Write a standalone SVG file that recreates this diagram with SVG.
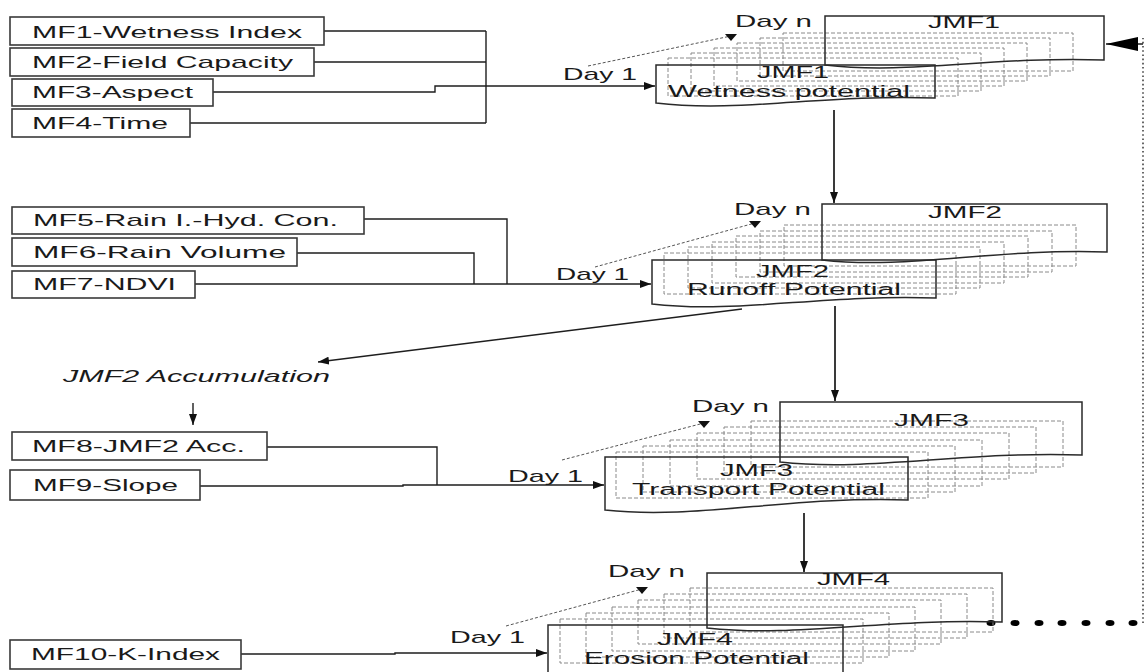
<svg xmlns="http://www.w3.org/2000/svg" width="1145" height="672" viewBox="0 0 1145 672">
<defs>
<style>
text{font-family:"Liberation Sans",Arial,sans-serif;font-size:17px;fill:#1a1a1a}
.s{font-size:16px}
.it{font-style:italic}
.box{fill:none;stroke:#3a3a3a;stroke-width:1.6}
.doc{fill:none;stroke:#2a2a2a;stroke-width:1.5}
.dl{fill:none;stroke:#8a8a8a;stroke-width:1;stroke-dasharray:4 2}
.c{fill:none;stroke:#1e1e1e;stroke-width:1.4}
.va{fill:none;stroke:#3a3a3a;stroke-width:2}
.dash{fill:none;stroke:#555;stroke-width:1;stroke-dasharray:3 2}
.dot{fill:none;stroke:#444;stroke-width:1.6;stroke-dasharray:1.6 2.6}
</style>
<marker id="arr" markerUnits="userSpaceOnUse" markerWidth="11" markerHeight="8" refX="11" refY="4" orient="auto"><path d="M0,0 L11,4 L0,8 z" fill="#111"/></marker>
<marker id="tri" markerUnits="userSpaceOnUse" markerWidth="12" markerHeight="8" refX="6" refY="2" orient="0"><path d="M0,0 L12,0 L6,7 z" fill="#111"/></marker>
<marker id="big" markerUnits="userSpaceOnUse" markerWidth="32" markerHeight="14" refX="32" refY="7" orient="auto"><path d="M0,0 L32,7 L0,14 z" fill="#000"/></marker>
</defs>
<rect width="1145" height="672" fill="#fff"/>

<g id="connectors">
<path class="c" d="M324,31 H486 M314,62 H486 M190,123 H486 M486,31 V123"/>
<path class="c" d="M213,92 H435 V86 H655" marker-end="url(#arr)"/>
<path class="c" d="M364,219 H507 V284 M297,253 H474 V284"/>
<path class="c" d="M195,284 H651" marker-end="url(#arr)"/>
<path class="c" d="M267,447 H437 V485"/>
<path class="c" d="M200,486 H403 V485 H604" marker-end="url(#arr)"/>
<path class="c" d="M241,654 H395 V653 H547" marker-end="url(#arr)"/>
<path class="va" d="M834,110 V203" marker-end="url(#arr)"/>
<path class="va" d="M835,306 V401" marker-end="url(#arr)"/>
<path class="va" d="M804,513 V572" marker-end="url(#arr)"/>
<path class="c" d="M742,309 L318,362" marker-end="url(#arr)"/>
<path class="c" d="M193,403 V425" marker-end="url(#arr)"/>
<path class="dash" d="M588,66 L731,36" marker-end="url(#tri)"/>
<path class="dash" d="M595,267 L755,223" marker-end="url(#tri)"/>
<path class="dash" d="M562,460 L704,423" marker-end="url(#tri)"/>
<path class="dash" d="M506,626 L642,589" marker-end="url(#tri)"/>
<path class="dot" d="M1143,623 V38"/>
<path class="c" d="M1143,44 H1106" marker-end="url(#big)"/>
<g fill="#000">
<ellipse cx="991" cy="623" rx="4.5" ry="3"/><ellipse cx="1015" cy="623" rx="4.5" ry="3"/><ellipse cx="1039" cy="623" rx="4.5" ry="3"/><ellipse cx="1062" cy="623" rx="4.5" ry="3"/><ellipse cx="1086" cy="623" rx="4.5" ry="3"/><ellipse cx="1110" cy="623" rx="4.5" ry="3"/><ellipse cx="1133" cy="623" rx="4.5" ry="3"/>
</g>
</g>

<g id="mf1"><rect class="box" x="10" y="17" width="314" height="28"/><text x="32" y="38" textLength="270" lengthAdjust="spacingAndGlyphs">MF1-Wetness Index</text></g>
<g id="mf2"><rect class="box" x="10" y="48" width="304" height="28"/><text x="32" y="68" textLength="261" lengthAdjust="spacingAndGlyphs">MF2-Field Capacity</text></g>
<g id="mf3"><rect class="box" x="12" y="79" width="201" height="27"/><text x="32" y="98" textLength="161" lengthAdjust="spacingAndGlyphs">MF3-Aspect</text></g>
<g id="mf4"><rect class="box" x="12" y="109" width="178" height="28"/><text x="32" y="129" textLength="136" lengthAdjust="spacingAndGlyphs">MF4-Time</text></g>
<g id="mf5"><rect class="box" x="12" y="207" width="352" height="27"/><text x="33" y="226" textLength="305" lengthAdjust="spacingAndGlyphs">MF5-Rain I.-Hyd. Con.</text></g>
<g id="mf6"><rect class="box" x="12" y="238" width="285" height="28"/><text x="33" y="258" textLength="253" lengthAdjust="spacingAndGlyphs">MF6-Rain Volume</text></g>
<g id="mf7"><rect class="box" x="12" y="271" width="183" height="27"/><text x="33" y="290" textLength="143" lengthAdjust="spacingAndGlyphs">MF7-NDVI</text></g>
<g id="acc"><text class="it" x="63" y="382" textLength="267" lengthAdjust="spacingAndGlyphs">JMF2 Accumulation</text></g>
<g id="mf8"><rect class="box" x="12" y="432" width="255" height="28"/><text x="32" y="452" textLength="213" lengthAdjust="spacingAndGlyphs">MF8-JMF2 Acc.</text></g>
<g id="mf9"><rect class="box" x="10" y="470" width="190" height="30"/><text x="33" y="491" textLength="145" lengthAdjust="spacingAndGlyphs">MF9-Slope</text></g>
<g id="mf10"><rect class="box" x="10" y="640" width="231" height="29"/><text x="31" y="660" textLength="189" lengthAdjust="spacingAndGlyphs">MF10-K-Index</text></g>

<g id="jmf1">
<rect class="dl" x="668" y="58" width="290" height="38"/><rect class="dl" x="691" y="53" width="290" height="38"/><rect class="dl" x="714" y="48" width="290" height="38"/><rect class="dl" x="737" y="43" width="290" height="38"/><rect class="dl" x="760" y="38" width="290" height="38"/><rect class="dl" x="783" y="33" width="290" height="38"/>
<path class="doc" d="M825,16 H1104 V60 C992,56 909,75 825,65 Z"/>
<path class="doc" d="M656,65 H935 V98 C823,94 740,113 656,103 Z"/>
<text x="735" y="27" textLength="77" lengthAdjust="spacingAndGlyphs">Day n</text>
<text x="928" y="28" textLength="72" lengthAdjust="spacingAndGlyphs">JMF1</text>
<text class="s" x="757" y="78" textLength="72" lengthAdjust="spacingAndGlyphs">JMF1</text>
<text class="s" x="668" y="97" textLength="242" lengthAdjust="spacingAndGlyphs">Wetness potential</text>
<text x="563" y="80" textLength="74" lengthAdjust="spacingAndGlyphs">Day 1</text>
</g>

<g id="jmf2">
<rect class="dl" x="664" y="253" width="292" height="41"/><rect class="dl" x="688" y="247" width="292" height="41"/><rect class="dl" x="712" y="242" width="292" height="41"/><rect class="dl" x="736" y="236" width="292" height="41"/><rect class="dl" x="760" y="231" width="292" height="41"/><rect class="dl" x="784" y="225" width="292" height="41"/>
<path class="doc" d="M822,204 H1107 V252 C993,248 908,270 822,260 Z"/>
<path class="doc" d="M652,260 H936 V298 C822,294 737,314 652,304 Z"/>
<text x="734" y="215" textLength="77" lengthAdjust="spacingAndGlyphs">Day n</text>
<text x="928" y="218" textLength="74" lengthAdjust="spacingAndGlyphs">JMF2</text>
<text class="s" x="756" y="277" textLength="73" lengthAdjust="spacingAndGlyphs">JMF2</text>
<text class="s" x="687" y="295" textLength="214" lengthAdjust="spacingAndGlyphs">Runoff Potential</text>
<text x="556" y="280" textLength="73" lengthAdjust="spacingAndGlyphs">Day 1</text>
</g>

<g id="jmf3">
<rect class="dl" x="616" y="452" width="312" height="46"/><rect class="dl" x="643" y="446" width="312" height="46"/><rect class="dl" x="670" y="440" width="312" height="46"/><rect class="dl" x="697" y="433" width="312" height="46"/><rect class="dl" x="724" y="427" width="312" height="46"/><rect class="dl" x="751" y="421" width="312" height="46"/>
<path class="doc" d="M780,402 H1082 V455 C961,451 871,472 780,462 Z"/>
<path class="doc" d="M605,457 H908 V500 C787,496 696,520 605,510 Z"/>
<text x="692" y="412" textLength="77" lengthAdjust="spacingAndGlyphs">Day n</text>
<text x="894" y="426" textLength="75" lengthAdjust="spacingAndGlyphs">JMF3</text>
<text class="s" x="720" y="476" textLength="73" lengthAdjust="spacingAndGlyphs">JMF3</text>
<text class="s" x="632" y="495" textLength="253" lengthAdjust="spacingAndGlyphs">Transport Potential</text>
<text x="508" y="482" textLength="75" lengthAdjust="spacingAndGlyphs">Day 1</text>
</g>

<g id="jmf4">
<rect class="dl" x="560" y="619" width="303" height="44"/><rect class="dl" x="586" y="613" width="303" height="44"/><rect class="dl" x="612" y="607" width="303" height="44"/><rect class="dl" x="638" y="600" width="303" height="44"/><rect class="dl" x="664" y="594" width="303" height="44"/><rect class="dl" x="690" y="588" width="303" height="44"/>
<path class="doc" d="M707,573 H1002 V622 C884,618 796,638 707,628 Z"/>
<path class="doc" d="M548,625 H843 V684 C725,680 637,700 548,690 Z"/>
<text x="608" y="577" textLength="77" lengthAdjust="spacingAndGlyphs">Day n</text>
<text x="817" y="585" textLength="73" lengthAdjust="spacingAndGlyphs">JMF4</text>
<text class="s" x="657" y="645" textLength="76" lengthAdjust="spacingAndGlyphs">JMF4</text>
<text class="s" x="584" y="664" textLength="225" lengthAdjust="spacingAndGlyphs">Erosion Potential</text>
<text x="450" y="643" textLength="75" lengthAdjust="spacingAndGlyphs">Day 1</text>
</g>
</svg>
